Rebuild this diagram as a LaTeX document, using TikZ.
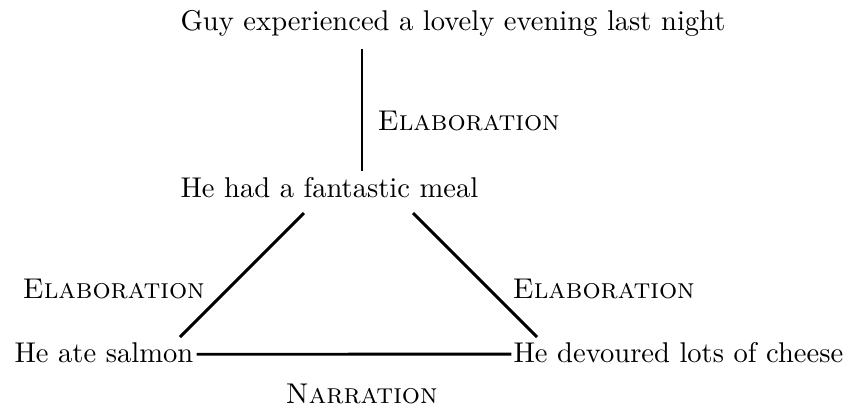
\documentclass[tikz,border=0pt]{standalone}
\begin{document}
\begin{tikzpicture}[x=0.35pt,y=-0.35pt,
  txt/.style={inner sep=0pt, anchor=base west},
  rel/.style={inner sep=0pt, anchor=base west, font=\scshape},
  link/.style={line width=1pt}]
\useasboundingbox (0,0) rectangle (848,410);
\node[txt] (top) at (180,30) {Guy experienced a lovely evening last night};
\node[txt] (meal) at (180,197) {He had a fantastic meal};
\node[txt] (salmon) at (14,362) {He ate salmon};
\node[txt] (cheese) at (513,362) {He devoured lots of cheese};
\node[rel] (e1) at (377,130) {Elaboration};
\node[rel] (e2) at (22,298) {Elaboration};
\node[rel] (e3) at (512,298) {Elaboration};
\node[rel] (n1) at (285,403) {Narration};
\coordinate (t1) at (362,49);
\coordinate (m0) at (362,171);
\coordinate (ml) at (304,213);
\coordinate (mr) at (413,213);
\coordinate (sl) at (180,337);
\coordinate (cr) at (537,337);
\draw[link] (t1) -- (m0);
\draw[link] (ml) -- (sl);
\draw[link] (mr) -- (cr);
\draw[link, shorten <=1pt, shorten >=0.6pt] ([yshift=-0.7pt]salmon.east) -- ([yshift=-0.7pt]cheese.west);
\end{tikzpicture}
\end{document}
